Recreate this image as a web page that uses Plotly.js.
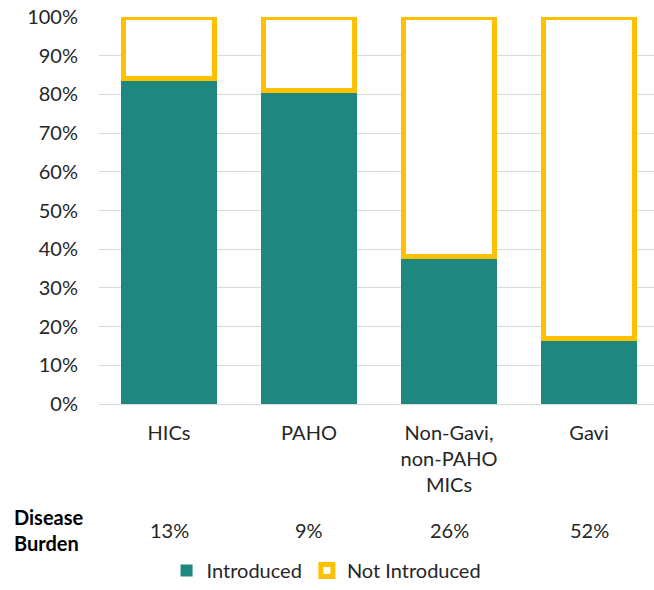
<!DOCTYPE html>
<html>
<head>
<meta charset="utf-8">
<script src="https://cdn.plot.ly/plotly-3.0.1.min.js"></script>
<style>html,body{margin:0;padding:0;background:#fff;}#chart{width:654px;height:590px;}</style>
</head>
<body>
<div id="chart"></div>
<script>
// ---- data ----
var categories = ["HICs", "PAHO", "Non-Gavi,<br>non-PAHO<br>MICs", "Gavi"];
var introduced = [84, 81, 38, 17];
var notIntroduced = [16, 19, 62, 83];
var diseaseBurden = ["13%", "9%", "26%", "52%"];
var yTickVals = [0, 10, 20, 30, 40, 50, 60, 70, 80, 90, 100];
var yTickText = ["0%", "10%", "20%", "30%", "40%", "50%", "60%", "70%", "80%", "90%", "100%"];
var burdenLabel = "<b>Disease<br>Burden</b>";

var FONT = "Lato, 'Open Sans', sans-serif";
var TXT = "#262626";

var traces = [
  {
    type: "bar", name: "Introduced", x: categories, y: introduced,
    marker: {color: "#1E877F", line: {width: 0}},
    width: 0.686, cliponaxis: false, hoverinfo: "skip"
  },
  {
    type: "bar", name: "Not Introduced", x: categories, y: notIntroduced,
    marker: {color: "#FFFFFF", line: {color: "#FFC000", width: 5}},
    width: 0.65, cliponaxis: false, hoverinfo: "skip"
  }
];

var annotations = [{
  xref: "paper", yref: "paper", x: -0.157, y: -0.325,
  xanchor: "left", yanchor: "middle", align: "left",
  text: burdenLabel, showarrow: false,
  font: {family: FONT, size: 20, color: "#000"}
}];
for (var i = 0; i < categories.length; i++) {
  annotations.push({
    xref: "x", yref: "paper", x: categories[i], y: -0.325,
    xanchor: "center", yanchor: "middle",
    text: diseaseBurden[i], showarrow: false,
    font: {family: FONT, size: 20, color: TXT}
  });
}

var layout = {
  width: 654, height: 590,
  margin: {l: 99, r: 0, t: 17, b: 183, pad: 0},
  paper_bgcolor: "#fff", plot_bgcolor: "#fff",
  barmode: "stack",
  font: {family: FONT, size: 20, color: TXT},
  showlegend: true,
  legend: {
    orientation: "h", x: 0.41, xanchor: "center", y: -0.43, yanchor: "middle",
    font: {family: FONT, size: 20, color: TXT}, traceorder: "normal",
    itemwidth: 30
  },
  xaxis: {
    type: "category", categoryorder: "array", categoryarray: categories,
    range: [-0.5, 3.464], showgrid: false, zeroline: false, showline: false,
    ticks: "", ticklabelstandoff: 15, automargin: false,
    tickfont: {family: FONT, size: 20, color: TXT}
  },
  yaxis: {
    range: [0, 100], tickmode: "array", tickvals: yTickVals, ticktext: yTickText,
    showgrid: true, gridcolor: "#D9D9D9", gridwidth: 1,
    zeroline: true, zerolinecolor: "#D9D9D9", zerolinewidth: 1,
    showline: false, ticks: "", ticklabelstandoff: 20, automargin: false,
    tickfont: {family: FONT, size: 20, color: TXT}
  },
  annotations: annotations
};

Plotly.newPlot("chart", traces, layout, {displayModeBar: false, staticPlot: true});
</script>
</body>
</html>
